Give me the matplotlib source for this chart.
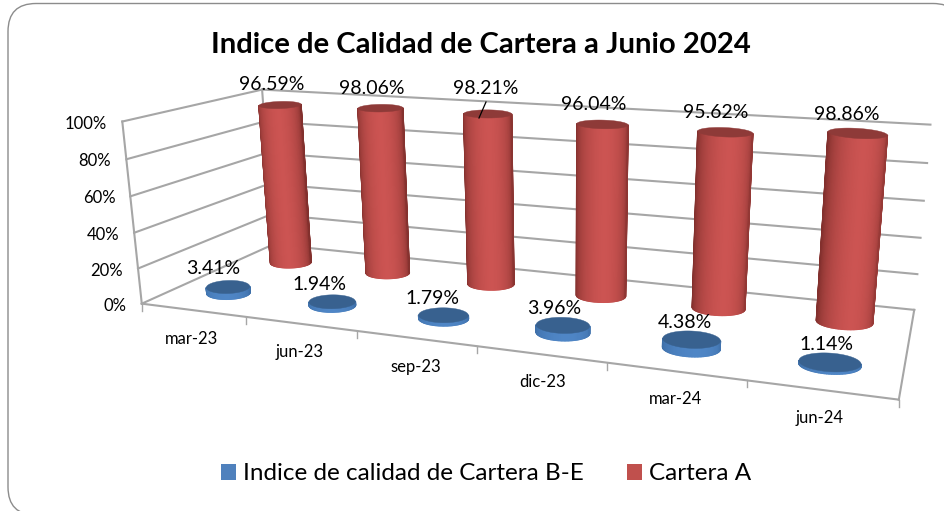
import numpy as np
import matplotlib
matplotlib.use("Agg")
import matplotlib.pyplot as plt
from matplotlib.collections import PolyCollection
from matplotlib.colors import to_rgb
from matplotlib.patches import FancyBboxPatch, Patch

plt.rcParams["font.family"] = ["Lato", "DejaVu Sans"]

months = ["mar-23", "jun-23", "sep-23", "dic-23", "mar-24", "jun-24"]
cartera_be = [3.41, 1.94, 1.79, 3.96, 4.38, 1.14]
cartera_a = [96.59, 98.06, 98.21, 96.04, 95.62, 98.86]
yticks = [0, 20, 40, 60, 80, 100]

title = "Indice de Calidad de Cartera a Junio 2024"
name_be = "Indice de calidad de Cartera B-E"
name_a = "Cartera A"

# pixel places of the labels
label_a_xy = [(272, 85), (372, 88), (486, 88), (594, 105), (716, 113), (847, 115)]
label_be_xy = [(213, 269), (319, 284), (432, 298), (554, 308), (685, 322), (826, 345)]
month_xy = [(192, 339), (300, 352), (416, 367), (543, 382), (675, 399), (820, 418)]

# anchor points of the 3d box: (category pos, depth, value) -> pixel
anchors = [
    (0, 0, 0, 141, 303), (1/6, 0, 0, 245, 318), (2/6, 0, 0, 357, 333),
    (3/6, 0, 0, 478, 347), (4/6, 0, 0, 607, 363), (5/6, 0, 0, 747, 382),
    (1, 0, 0, 898, 398),
    (0, 0, .2, 137, 268), (0, 0, .4, 135, 232), (0, 0, .6, 131, 195),
    (0, 0, .8, 127, 158), (0, 0, 1, 123, 122),
    (0, 1, 0, 275, 244), (0, 1, 1, 260, 91),
    (1, 1, 0, 914, 309), (1, 1, .2, 917, 274), (1, 1, .4, 921, 237),
    (1, 1, .6, 924, 201), (1, 1, .8, 927, 163), (1, 1, 1, 931, 125),
]


def fit_camera(points):
    rows, rhs = [], []
    for u, d, v, x, y in points:
        rows.append([u, d, v, 1, 0, 0, 0, 0, -x*u, -x*d, -x*v])
        rows.append([0, 0, 0, 0, u, d, v, 1, -y*u, -y*d, -y*v])
        rhs += [x, y]
    sol = np.linalg.lstsq(np.array(rows, float), np.array(rhs, float), rcond=None)[0]
    return np.append(sol, 1).reshape(3, 4)


cam = fit_camera(anchors)


def project(u, d, v):
    u, d, v = np.broadcast_arrays(u, d, v)
    p = cam @ np.stack([u, d, v, np.ones_like(u, dtype=float)])
    return p[0] / p[2], p[1] / p[2]


def mix(c1, c2, t):
    return tuple(np.array(to_rgb(c1)) * (1 - t) + np.array(to_rgb(c2)) * t)


def ring(u0, d0, v, r_u, flat, th):
    # screen ellipse round the projected centre, slightly tilted towards the right side
    cx, cy = project(u0, d0, v)
    x1, _ = project(u0 - r_u, d0, v)
    x2, _ = project(u0 + r_u, d0, v)
    a = (x2 - x1) / 2
    slope = -0.04 + 0.11*u0
    return cx + a*np.cos(th), cy + a*slope*np.cos(th) - flat*a*np.sin(th)


def cylinder(ax, u0, d0, value, r_u, flat_base, flat_top, light, dark, top_col, z):
    th = np.linspace(-np.pi, 0, 61)
    peak = -np.pi/2 + np.radians(14)*(u0 - 0.2)/0.7
    bx, by = ring(u0, d0, 0, r_u, flat_base, th)
    tx, ty = ring(u0, d0, value/100, r_u, flat_top, th)
    polys, cols = [], []
    for i in range(len(th) - 1):
        mid = (th[i] + th[i+1]) / 2
        polys.append([(bx[i], by[i]), (bx[i+1], by[i+1]), (tx[i+1], ty[i+1]), (tx[i], ty[i])])
        off = abs(mid - peak) / (np.pi/2)
        cols.append(mix(light, dark, min(off, 1)**1.7))
    ax.add_collection(PolyCollection(polys, facecolors=cols, edgecolors=cols, linewidths=1.0, zorder=z))
    rx, ry = ring(u0, d0, value/100, r_u, flat_top, np.linspace(0, 2*np.pi, 121))
    ax.fill(rx, ry, color=top_col, lw=0.3, zorder=z + 0.1)


fig = plt.figure(figsize=(9.44, 5.11), dpi=100)
ax = fig.add_axes([0, 0, 1, 1])
ax.set_xlim(0, 944)
ax.set_ylim(511, 0)
ax.axis("off")

ax.add_patch(FancyBboxPatch((8, 3.5), 953, 511.5, boxstyle="round,pad=0,rounding_size=28",
                            fc="white", ec="#8c8c8c", lw=1.0, zorder=0))

ax.text(481, 45, title, ha="center", va="center", fontsize=21.1, fontweight="bold", color="black")

grid = "#a6a6a6"
lw = 1.5
for t in yticks:
    v = t / 100
    x, y = project([0, 0], [0, 1], v)
    ax.plot(x, y, color=grid, lw=lw, zorder=1)
    x, y = project([0, 1], [1, 1], v)
    ax.plot(x, y, color=grid, lw=lw, zorder=1)
    x0, y0 = project(0, 0, v)
    ax.text(x0 - 15, y0 + 2, f"{t}%", ha="right", va="center", fontsize=12, color="black")

for uu, dd, vv in [([0, 0], [0, 0], [0, 1]), ([0, 1], [0, 0], [0, 0]), ([1, 1], [0, 1], [0, 0]),
                   ([0, 0], [1, 1], [0, 1])]:
    x, y = project(uu, dd, vv)
    ax.plot(x, y, color=grid, lw=lw, zorder=1)

for i in range(len(months) + 1):
    x, y = project(i / len(months), 0, 0)
    ax.plot([x, x], [y, y + 7], color=grid, lw=1.0, zorder=1)

n = len(months)
for i in range(n):
    u0 = (i + 0.5) / n
    cylinder(ax, u0, 0.75, cartera_a[i], 0.036, 0.27, 0.17, "#CC5452", "#82302D", "#8E3A38", 3)
    cylinder(ax, u0, 0.25, cartera_be[i], 0.036, 0.30, 0.30, "#4F86C6", "#3E6FA8", "#38618F", 4)

for xy, val in zip(label_a_xy, cartera_a):
    ax.text(xy[0], xy[1], f"{val:.2f}%", ha="center", va="center", fontsize=14, zorder=6)
for xy, val in zip(label_be_xy, cartera_be):
    ax.text(xy[0], xy[1], f"{val:.2f}%", ha="center", va="center", fontsize=14, zorder=6)
for xy, m in zip(month_xy, months):
    ax.text(xy[0], xy[1], m, ha="center", va="center", fontsize=12, zorder=6)

# leader line of the third label
ax.plot([486, 479], [102, 118], color="black", lw=0.9, zorder=6)

handles = [Patch(fc="#4F81BD", lw=0, label=name_be), Patch(fc="#C0504D", lw=0, label=name_a)]
ax.legend(handles=handles, ncol=2, loc="center", bbox_to_anchor=(486/944, 1 - 474/511), frameon=False,
          fontsize=17.5, handlelength=0.62, handleheight=0.62, handletextpad=0.3, columnspacing=1.75)

fig.savefig("out.png", dpi=100)
